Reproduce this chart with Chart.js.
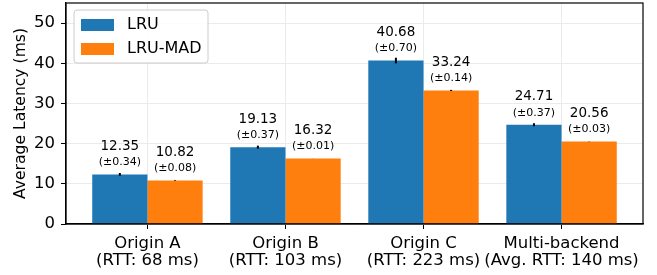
<!DOCTYPE html>
<html>
<head>
<meta charset="utf-8">
<script src="https://cdn.jsdelivr.net/npm/chart.js@4/dist/chart.umd.min.js"></script>
<style>
  html, body { margin: 0; padding: 0; background: #fff; }
  #wrap { width: 657px; height: 275px; position: relative; }
</style>
</head>
<body>
<div id="wrap"><canvas id="grafico"></canvas></div>
<script>
// dados
const categorias = [
    ['Origin A', '(RTT: 68 ms)'],
    ['Origin B', '(RTT: 103 ms)'],
    ['Origin C', '(RTT: 223 ms)'],
    ['Multi-backend', '(Avg. RTT: 140 ms)']
];
const lru = [12.35, 19.13, 40.68, 24.71];
const lruErro = [0.34, 0.37, 0.70, 0.37];
const lruMad = [10.82, 16.32, 33.24, 20.56];
const lruMadErro = [0.08, 0.01, 0.14, 0.03];
const yTicks = [0, 10, 20, 30, 40, 50];

const fonte = "'DejaVu Sans', sans-serif";

// barras de erro + rotulos em cima de cada barra
const rotulosPlugin = {
    id: 'rotulos',
    afterDatasetsDraw(chart) {
        const ctx = chart.ctx;
        const y = chart.scales.y;
        chart.data.datasets.forEach((ds, di) => {
            const meta = chart.getDatasetMeta(di);
            meta.data.forEach((bar, i) => {
                const v = ds.data[i].y;
                const e = ds.erros[i];
                ctx.save();
                ctx.strokeStyle = '#000';
                ctx.lineWidth = 2;
                ctx.beginPath();
                ctx.moveTo(bar.x, y.getPixelForValue(v - e));
                ctx.lineTo(bar.x, y.getPixelForValue(v + e));
                ctx.stroke();

                const topo = y.getPixelForValue(v);
                ctx.fillStyle = '#000';
                ctx.textAlign = 'center';
                ctx.textBaseline = 'middle';
                ctx.font = '13.5px ' + fonte;
                ctx.fillText(v.toFixed(2), bar.x, topo - 28);
                ctx.font = '11px ' + fonte;
                ctx.fillText('(\u00b1' + e.toFixed(2) + ')', bar.x, topo - 12);
                ctx.restore();
            });
        });
    },
    afterDraw(chart) {
        const ctx = chart.ctx;
        const a = chart.chartArea;
        // moldura estilo matplotlib
        ctx.save();
        ctx.strokeStyle = '#000';
        ctx.lineWidth = 1.2;
        ctx.strokeRect(a.left, a.top, a.right - a.left, a.bottom - a.top);

        // legenda dentro da area do grafico
        const lx = a.left + 8, ly = a.top + 7, lw = 134, lh = 53;
        ctx.fillStyle = 'rgba(255,255,255,0.85)';
        ctx.strokeStyle = '#cccccc';
        ctx.lineWidth = 1;
        ctx.beginPath();
        ctx.roundRect(lx, ly, lw, lh, 3);
        ctx.fill();
        ctx.stroke();
        ctx.font = '16px ' + fonte;
        ctx.textBaseline = 'middle';
        ctx.textAlign = 'left';
        chart.data.datasets.forEach((ds, i) => {
            const cy = ly + 15 + i * 24;
            ctx.fillStyle = ds.backgroundColor;
            ctx.fillRect(lx + 7, cy - 6, 33, 12);
            ctx.fillStyle = '#000';
            ctx.fillText(ds.label, lx + 53, cy);
        });
        ctx.restore();
    }
};

new Chart(document.getElementById('grafico').getContext('2d'), {
    type: 'bar',
    data: {
        datasets: [{
            label: 'LRU',
            data: lru.map((v, i) => ({ x: i, y: v })),
            erros: lruErro,
            backgroundColor: '#1f77b4'
        }, {
            label: 'LRU-MAD',
            data: lruMad.map((v, i) => ({ x: i, y: v })),
            erros: lruMadErro,
            backgroundColor: '#ff7f0e'
        }]
    },
    options: {
        responsive: true,
        maintainAspectRatio: false,
        animation: false,
        categoryPercentage: 0.8,
        barPercentage: 1,
        layout: { autoPadding: false, padding: { top: 3, right: 14, left: 0, bottom: 0 } },
        plugins: {
            legend: { display: false },
            tooltip: { enabled: false }
        },
        scales: {
            x: {
                type: 'linear',
                min: -0.59,
                max: 3.59,
                offset: false,
                afterBuildTicks: (s) => { s.ticks = categorias.map((c, i) => ({ value: i })); },
                afterFit: (s) => {
                    s.height = 51;
                    s.paddingLeft = 0; s.paddingRight = 0;
                },
                grid: { offset: false, color: '#ebebeb', tickColor: '#000', tickLength: 5, lineWidth: 1 },
                border: { color: '#000', width: 1.2 },
                ticks: {
                    autoSkip: false,
                    maxRotation: 0,
                    minRotation: 0,
                    padding: 6,
                    color: '#000',
                    font: { size: 16.5, family: fonte, lineHeight: 1.05 },
                    callback: (v) => categorias[v]
                }
            },
            y: {
                min: 0,
                max: 55,
                afterBuildTicks: (s) => { s.ticks = yTicks.map(v => ({ value: v })); },
                afterFit: (s) => {
                    s.width = 66;
                    s.paddingTop = 0; s.paddingBottom = 0;
                },
                grid: { color: '#ebebeb', tickColor: '#000', tickLength: 5, lineWidth: 1 },
                border: { color: '#000', width: 1.2 },
                title: {
                    display: true,
                    text: 'Average Latency (ms)',
                    color: '#000',
                    font: { size: 15.6, family: fonte },
                    padding: { top: 12, bottom: 0 }
                },
                ticks: {
                    padding: 6,
                    color: '#000',
                    font: { size: 16.5, family: fonte }
                }
            }
        }
    },
    plugins: [rotulosPlugin]
});
</script>
</body>
</html>
